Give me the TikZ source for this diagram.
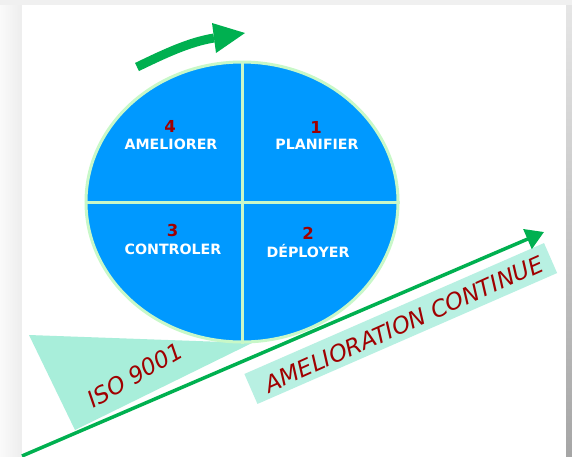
\documentclass[tikz,border=0pt]{standalone}
\usepackage{fontspec}
\setmainfont{DejaVu Sans}
\usetikzlibrary{shapes.geometric,arrows.meta}
\definecolor{cblue}{HTML}{0099FF}
\definecolor{cedge}{HTML}{C8F8C8}
\definecolor{cgreen}{HTML}{00B050}
\definecolor{cred}{HTML}{A00000}
\definecolor{caqua}{HTML}{A8EEDA}
\definecolor{cband}{HTML}{B8F0E2}
\begin{document}
\begin{tikzpicture}[x=1pt,y=-1pt,
  phase/.style={font=\fontsize{14.2}{16}\selectfont\bfseries, text=white, inner sep=0pt},
  phnum/.style={font=\fontsize{16.5}{18}\selectfont\bfseries, text=cred, inner sep=0pt},
  slanted/.style={font=\fontsize{23}{25}\selectfont\itshape, text=cred, inner sep=0pt},
  divider/.style={draw=cedge, line width=3pt}]
\useasboundingbox (0,0) rectangle (572,456);
% frame
\fill[gray!12] (0,0) rectangle (572,456);
\shade[left color=gray!4, right color=gray!14] (0,5) rectangle (22,456);
\shade[top color=gray!20, bottom color=gray!70] (566,5) rectangle (572,456);
\fill[white] (22,5) rectangle (566,456);
% ISO triangle
\fill[caqua] (29,335) -- (252,343) -- (75,430) -- cycle;
% PDCA wheel
\node[ellipse, fill=cblue, draw=cedge, line width=3pt, minimum width=312pt,
      minimum height=280pt, inner sep=0pt] (pdca) at (242,202) {};
\draw[divider] (pdca.north) -- (pdca.south);
\draw[divider] (pdca.west) -- (pdca.east);
\node[phnum] (n4) at (170,126) {4};
\node[phase] (t4) at (171,144) {AMELIORER};
\node[phnum] (n1) at (316,127) {1};
\node[phase] (t1) at (317,144) {PLANIFIER};
\node[phnum] (n3) at (172.5,230) {3};
\node[phase] (t3) at (173,249) {CONTROLER};
\node[phnum] (n2) at (308,233) {2};
\node[phase] (t2) at (308,251.5) {DÉPLOYER};
% band
\node[fill=cband, rotate=23.6, minimum width=327pt, minimum height=32.7pt,
      inner sep=0pt] (band) at (400.75,323.5) {};
\node[slanted, rotate=24] (amc) at (404,324) {AMELIORATION CONTINUE};
% improvement line
\coordinate (gstart) at (22,456);
\coordinate (gtip) at (544,232);
\draw[cgreen, line width=3.5pt, -{Triangle[length=18pt,width=21pt]}] (gstart) -- (gtip);
% ISO text
\node[slanted, rotate=30] (iso) at (135,375) {ISO 9001};
% curved arrow
\coordinate (ctail) at (137,67);
\coordinate (chead) at (214,38);
\draw[cgreen, line width=9pt] (ctail) .. controls (164,54) and (189,42) .. (chead);
\fill[cgreen] (212,23) -- (245,33) -- (216,53) -- cycle;
\end{tikzpicture}
\end{document}
